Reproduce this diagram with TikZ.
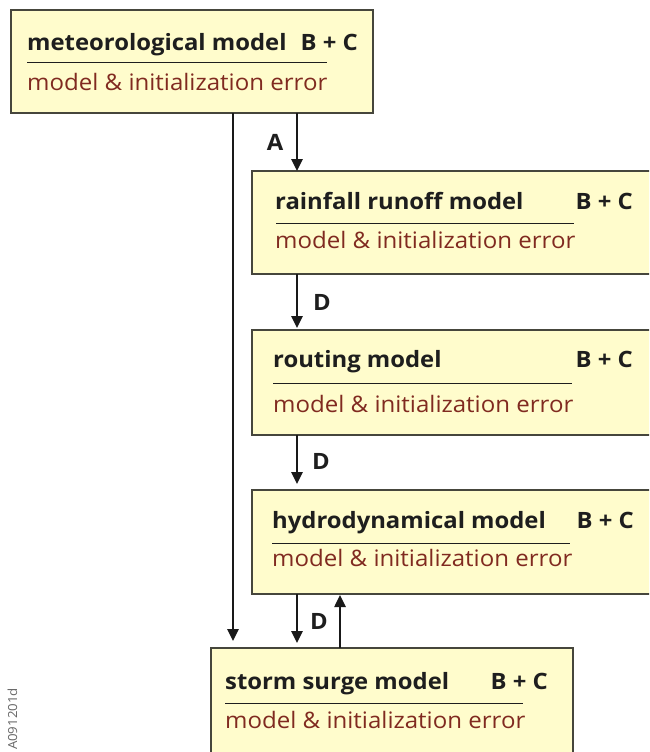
\documentclass[tikz,border=0pt]{standalone}
\usepackage{fontspec}
\setmainfont[FakeStretch=1.06]{Open Sans}
\usetikzlibrary{arrows.meta}
\definecolor{boxfill}{RGB}{255,252,204}
\definecolor{boxline}{RGB}{70,70,60}
\definecolor{errred}{RGB}{128,42,32}
\definecolor{titleblack}{RGB}{30,30,30}
\tikzset{
  box/.style={draw=boxline, fill=boxfill, line width=1.3pt, anchor=north west, inner sep=0pt, outer sep=0pt},
  ttl/.style={anchor=base west, inner sep=0pt, font=\fontsize{22.5}{26}\selectfont\bfseries, text=titleblack},
  bc/.style={anchor=base east, inner sep=0pt, font=\fontsize{22.5}{26}\selectfont\bfseries, text=titleblack},
  err/.style={anchor=base west, inner sep=0pt, font=\fontsize{22.7}{26}\selectfont, text=errred},
  rulel/.style={draw=titleblack, line width=1pt},
  conn/.style={draw=black!90, line width=2.5pt, -{Triangle[length=12pt,width=11pt]}},
  lbl/.style={anchor=base, inner sep=0pt, font=\fontsize{22.5}{26}\selectfont\bfseries, text=titleblack},
  tag/.style={anchor=base, inner sep=0pt, font=\fontsize{12.5}{14}\selectfont, text=black!60, rotate=90}
}
\begin{document}
\begin{tikzpicture}[x=1pt,y=-1pt]
\useasboundingbox (0,0) rectangle (649,752);
\clip (0,0) rectangle (649,752);
% boxes
\node[box, minimum width=362pt, minimum height=103pt] (met) at (11,10) {};
\node[box, minimum width=410pt, minimum height=103pt] (rain) at (252,171) {};
\node[box, minimum width=410pt, minimum height=105pt] (rout) at (252,330) {};
\node[box, minimum width=410pt, minimum height=104pt] (hydro) at (252,490) {};
\node[box, minimum width=362pt, minimum height=120pt] (storm) at (211,648) {};
% meteorological
\node[ttl] (t1) at (27,51) {meteorological model};
\node[bc] (b1) at (358,51) {B + C};
\coordinate (r1a) at (27,63); \coordinate (r1b) at (327,63);
\draw[rulel] (r1a) -- (r1b);
\node[err] (e1) at (27,90) {model \& initialization error};
% rainfall
\node[ttl] (t2) at (275,209) {rainfall runoff model};
\node[bc] (b2) at (633,209) {B + C};
\coordinate (r2a) at (276,223); \coordinate (r2b) at (574,223);
\draw[rulel] (r2a) -- (r2b);
\node[err] (e2) at (275,248) {model \& initialization error};
% routing
\node[ttl] (t3) at (273,367) {routing model};
\node[bc] (b3) at (633,367) {B + C};
\coordinate (r3a) at (273,383); \coordinate (r3b) at (572,383);
\draw[rulel] (r3a) -- (r3b);
\node[err] (e3) at (273,412) {model \& initialization error};
% hydrodynamical
\node[ttl] (t4) at (272,528) {hydrodynamical model};
\node[bc] (b4) at (634,528) {B + C};
\coordinate (r4a) at (272,543); \coordinate (r4b) at (570,543);
\draw[rulel] (r4a) -- (r4b);
\node[err] (e4) at (272,566) {model \& initialization error};
% storm surge
\node[ttl] (t5) at (225,689) {storm surge model};
\node[bc] (b5) at (548,689) {B + C};
\coordinate (r5a) at (225,703); \coordinate (r5b) at (523,703);
\draw[rulel] (r5a) -- (r5b);
\node[err] (e5) at (225,728) {model \& initialization error};
% connector columns
\coordinate (cL) at (233,0);
\coordinate (cA) at (297,0);
\coordinate (cU) at (340,0);
\draw[conn, shorten >=7pt] (met.south -| cL) -- (storm.north -| cL);
\draw[conn] (met.south -| cA) -- (rain.north -| cA);
\draw[conn, shorten >=2pt] (rain.south -| cA) -- (rout.north -| cA);
\draw[conn, shorten >=6pt] (rout.south -| cA) -- (hydro.north -| cA);
\draw[conn, shorten >=5pt] (hydro.south -| cA) -- (storm.north -| cA);
\draw[conn, shorten >=1pt] (storm.north -| cU) -- (hydro.south -| cU);
% labels
\node[lbl] (lA) at (275,150) {A};
\node[lbl] (lD1) at (322,310) {D};
\node[lbl] (lD2) at (321,469) {D};
\node[lbl] (lD3) at (319,629) {D};
\node[tag] (code) at (17,719) {A091201d};
\end{tikzpicture}
\end{document}
